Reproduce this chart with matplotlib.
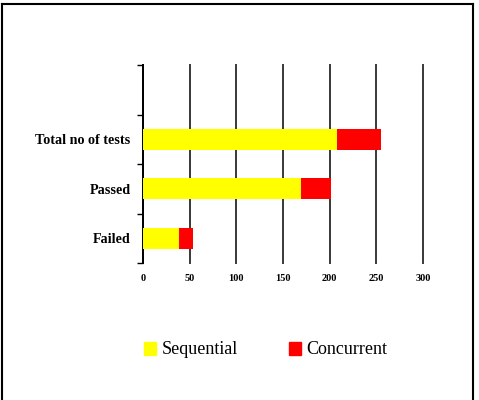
import matplotlib.pyplot as plt
from matplotlib.patches import Patch
from matplotlib.lines import Line2D

categories = ['Failed', 'Passed', 'Total no of tests']
sequential = [39, 169, 208]
concurrent = [15, 32, 47]
xticks = [0, 50, 100, 150, 200, 250, 300]

fig = plt.figure(figsize=(4.79, 4.0), dpi=100)
ax = fig.add_axes([0.2985, 0.3425, 0.5846, 0.495])

pos = list(range(len(categories)))
ax.barh(pos, sequential, height=0.42, color='#ffff00', zorder=3)
ax.barh(pos, concurrent, left=sequential, height=0.42, color='#ff0000', zorder=3)

ax.set_xlim(0, 300)
ax.set_ylim(-0.5, 3.5)
ax.set_xticks(xticks)
ax.set_xticklabels([str(t) for t in xticks], family='Liberation Serif',
                   fontweight='bold', fontsize=7.5)
ax.set_yticks([-0.5, 0.5, 1.5, 2.5, 3.5], minor=False)
ax.set_yticklabels([])
ax.set_yticks(pos, minor=True)
ax.set_yticklabels(categories, minor=True, family='Liberation Serif',
                   fontweight='bold', fontsize=10.2)
ax.tick_params(axis='y', which='major', length=4, width=1, direction='out')
ax.tick_params(axis='y', which='minor', length=0, pad=9)
ax.tick_params(axis='x', length=0, pad=8)

ax.grid(axis='x', color='#383838', linewidth=1.4, zorder=0)
for line in ax.get_xgridlines():
    line.set_clip_on(False)
for s in ['top', 'right', 'bottom']:
    ax.spines[s].set_visible(False)
ax.spines['left'].set_linewidth(1.4)

handles = [Patch(color='#ffff00'), Patch(color='#ff0000')]
fig.legend(handles, ['Sequential', 'Concurrent'], loc='center left',
           bbox_to_anchor=(0.266, 0.125), ncol=2, frameon=False,
           prop={'family': 'Liberation Serif', 'size': 13},
           handlelength=0.7, handleheight=0.7, handletextpad=0.3,
           columnspacing=2.8)

# outer frame
fig.add_artist(Line2D([2/479, 2/479], [0, 1 - 4/400], color='black', lw=1.5))
fig.add_artist(Line2D([2/479, 473/479], [1 - 4/400, 1 - 4/400], color='black', lw=1.5))
fig.add_artist(Line2D([473/479, 473/479], [0, 1 - 4/400], color='black', lw=1.5))

fig.savefig('out.png', dpi=100)
